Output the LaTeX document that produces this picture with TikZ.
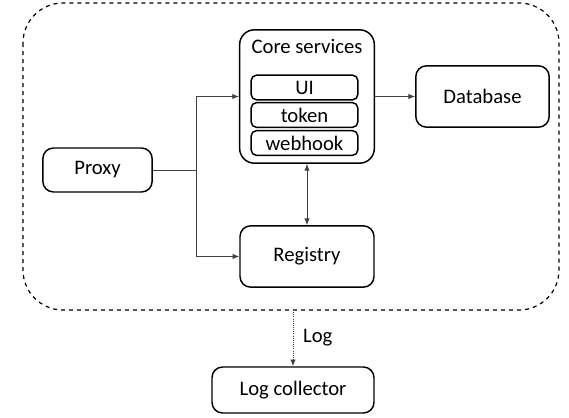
\documentclass[tikz,border=0pt]{standalone}
\usepackage{fontspec}
\setmainfont{Carlito}
\usetikzlibrary{arrows.meta}

\begin{document}
\begin{tikzpicture}[x=0.75pt,y=-0.75pt,
    box/.style={rectangle, draw, line width=1.1pt, rounded corners=8pt, font=\fontsize{15.5}{18}\selectfont},
    part/.style={rectangle, draw, line width=1.1pt, rounded corners=4pt, minimum width=80pt, minimum height=18.5pt, inner sep=0pt, font=\fontsize{15.5}{18}\selectfont},
    link/.style={line width=0.6pt, draw=black!75, -{Latex[length=5pt,width=4pt]}}]
      \useasboundingbox (0,0) rectangle (569,418);
      \draw[dashed, line width=0.9pt, rounded corners=30pt]
      (23,3) rectangle (559,310);

      \node at (307,96.5) [box, rounded corners=11pt, minimum width=101pt, minimum height=100pt] (core) {};
      \node at (307,46) [font=\fontsize{15.5}{18}\selectfont] (core-title) {Core services};
      \node at (304.5,87.5) [part] (ui) {UI};
      \node at (304.5,115) [part] (token) {token};
      \node at (304.5,143) [part] (webhook) {webhook};

      \node at (482.5,96.5) [box, minimum width=100pt, minimum height=46pt] (database) {Database};
      \node at (97.5,170) [box, minimum width=82pt, minimum height=33pt] (proxy) {Proxy};
      \node at (307,256.5) [box, minimum width=100.5pt, minimum height=46pt] (registry) {Registry};
      \node at (293,390) [box, minimum width=121.5pt, minimum height=34.5pt] (log-collector) {Log collector};

      \coordinate (split) at (196,170);
      \coordinate (log-out) at (293,310);

      \draw[line width=0.6pt, draw=black!75] (proxy.east) -- (split);
      \draw[link] (split) |- (core.west);
      \draw[link] (split) |- (registry.west);
      \draw[link] (core.east) -- (database.west);
      \draw[link, {Latex[length=5pt,width=4pt]}-{Latex[length=5pt,width=4pt]}] (core.south) -- (registry.north);
      \draw[link, densely dotted] (log-out) -- node[right=4pt, font=\fontsize{15.5}{18}\selectfont] (log-label) {Log} (log-collector.north);
\end{tikzpicture}
\end{document}
